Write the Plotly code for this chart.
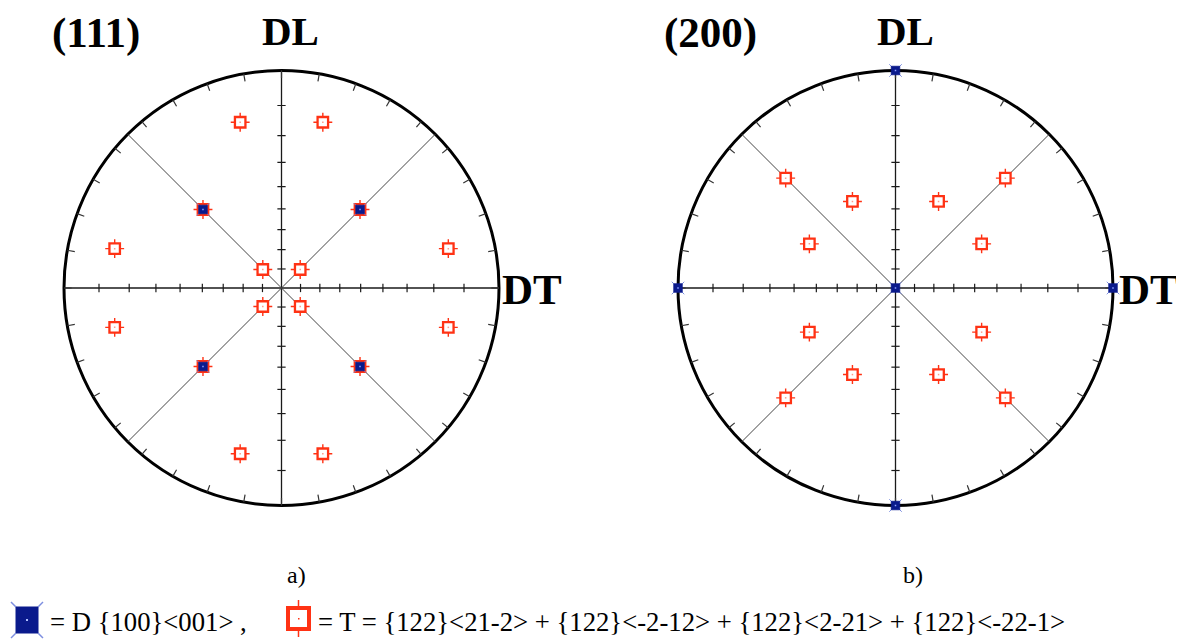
import numpy as np
import plotly.graph_objects as go

# the page keeps the browser's 8px body margin, so the figure is drawn 8px smaller
OFF = 8
W, H = 1184 - OFF, 639 - OFF

# pole positions in units of the projection radius (x -> DT, y -> DL)
d111_x = [-0.361, 0.361, -0.361, 0.361]
d111_y = [0.361, 0.361, -0.361, -0.361]
t111_x = [-0.19, 0.19, -0.767, 0.767, -0.086, 0.086, -0.361, 0.361,
          -0.086, 0.086, -0.767, 0.767, -0.361, 0.361, -0.19, 0.19]
t111_y = [0.762, 0.762, 0.181, 0.181, 0.085, 0.085, 0.361, 0.361,
          -0.085, -0.085, -0.181, -0.181, -0.361, -0.361, -0.762, -0.762]

d200_x = [0, 1, -1, 0, 0]
d200_y = [0, 0, 0, 1, -1]
t200_x = [-0.505, 0.505, -0.198, 0.198, -0.396, 0.396,
          -0.396, 0.396, -0.198, 0.198, -0.505, 0.505]
t200_y = [0.505, 0.505, 0.398, 0.398, 0.203, 0.203,
          -0.203, -0.203, -0.398, -0.398, -0.505, -0.505]

tick_polar = [10, 20, 30, 40, 50, 60, 70, 80]   # degrees, stereographic scale
tick_azimuth = list(range(0, 360, 10))
diag_azimuth = [45, 135]

RED = "#ff3214"
NAVY = "#0a1a8c"
LIGHTBLUE = "#7d8ee0"
SERIF = "Liberation Serif"

# centres of the two nets in page pixels, radius in pixels
R_PX = 217.5
centres = [(281.5, 288.0), (895.5, 288.0)]
HALF_W, HALF_H = 272, 238


def px(x):
    return (x - OFF) / W


def py(y):
    return 1 - (y - OFF) / H


def seg_trace(xs, ys, color, width, xa, ya):
    return go.Scatter(x=xs, y=ys, mode="lines", line=dict(color=color, width=width),
                      hoverinfo="skip", showlegend=False, xaxis=xa, yaxis=ya)


def add_net(fig, xa, ya):
    # main axes
    fig.add_trace(seg_trace([-1, 1, None, 0, 0], [0, 0, None, -1, 1], "#1a1a1a", 1.3, xa, ya))
    # diagonals
    dx, dy = [], []
    for a in diag_azimuth:
        c, s = np.cos(np.radians(a)), np.sin(np.radians(a))
        dx += [c, -c, None]
        dy += [s, -s, None]
    fig.add_trace(seg_trace(dx, dy, "#444", 1.0, xa, ya))
    # ticks on the axes
    r = np.tan(np.radians(tick_polar) / 2)
    tx, ty = [], []
    L = 0.019
    for v in r:
        for sgn in (-1, 1):
            tx += [sgn * v, sgn * v, None, -L, L, None]
            ty += [-L, L, None, sgn * v, sgn * v, None]
    fig.add_trace(seg_trace(tx, ty, "#1a1a1a", 1.2, xa, ya))
    # ticks on the rim
    cx, cy = [], []
    for a in tick_azimuth:
        c, s = np.cos(np.radians(a)), np.sin(np.radians(a))
        cx += [c, 0.965 * c, None]
        cy += [s, 0.965 * s, None]
    fig.add_trace(seg_trace(cx, cy, "#333", 1.2, xa, ya))


def add_poles(fig, x, y, kind, xa, ya):
    common = dict(x=x, y=y, mode="markers", hoverinfo="skip", showlegend=False, xaxis=xa, yaxis=ya)
    if kind == "T":
        fig.add_trace(go.Scatter(marker=dict(symbol="cross-thin", size=13.5,
                                             line=dict(color=RED, width=1.4)), **common))
        fig.add_trace(go.Scatter(marker=dict(symbol="square", size=10.5, color="white",
                                             line=dict(color=RED, width=2.3)), **common))
        fig.add_trace(go.Scatter(marker=dict(symbol="square", size=1.5, color="#ff9a8a",
                                             line=dict(width=0)), **common))
    else:
        fig.add_trace(go.Scatter(marker=dict(symbol="x-thin", size=12.5,
                                             line=dict(color=LIGHTBLUE, width=1)), **common))
        fig.add_trace(go.Scatter(marker=dict(symbol="square", size=8.5, color=NAVY,
                                             line=dict(color=NAVY, width=0.8)), **common))
        fig.add_trace(go.Scatter(marker=dict(symbol="square", size=1.5, color="#8fa0ff",
                                             line=dict(width=0)), **common))


fig = go.Figure()
add_net(fig, "x", "y")
add_poles(fig, t111_x, t111_y, "T", "x", "y")
add_poles(fig, d111_x, d111_y, "D", "x", "y")
add_net(fig, "x2", "y2")
add_poles(fig, t200_x, t200_y, "T", "x2", "y2")
add_poles(fig, d200_x, d200_y, "D", "x2", "y2")

ax_x = HALF_W / R_PX
ax_y = HALF_H / R_PX
layout_axes = {}
for i, (cxp, cyp) in enumerate(centres):
    suf = "" if i == 0 else "2"
    layout_axes["xaxis" + suf] = dict(range=[-ax_x, ax_x], visible=False, fixedrange=True,
                                     domain=[px(cxp - HALF_W), px(cxp + HALF_W)],
                                     anchor="y" + suf)
    layout_axes["yaxis" + suf] = dict(range=[-ax_y, ax_y], visible=False, fixedrange=True,
                                     domain=[py(cyp + HALF_H), py(cyp - HALF_H)],
                                     anchor="x" + suf)

shapes = []
for suf in ("", "2"):
    shapes.append(dict(type="circle", xref="x" + suf, yref="y" + suf, x0=-1, y0=-1, x1=1, y1=1,
                       line=dict(color="black", width=3), layer="below"))

# legend icons (paper coordinates)
shapes += [
    dict(type="line", xref="paper", yref="paper", x0=px(16), y0=py(607), x1=px(11), y1=py(602),
         line=dict(color=LIGHTBLUE, width=1.5)),
    dict(type="line", xref="paper", yref="paper", x0=px(38), y0=py(607), x1=px(43), y1=py(602),
         line=dict(color=LIGHTBLUE, width=1.5)),
    dict(type="line", xref="paper", yref="paper", x0=px(16), y0=py(633), x1=px(11), y1=py(638),
         line=dict(color=LIGHTBLUE, width=1.5)),
    dict(type="line", xref="paper", yref="paper", x0=px(38), y0=py(633), x1=px(43), y1=py(638),
         line=dict(color=LIGHTBLUE, width=1.5)),
    dict(type="rect", xref="paper", yref="paper", x0=px(16), y0=py(633), x1=px(38), y1=py(607),
         fillcolor=NAVY, line=dict(color=NAVY, width=1)),
    dict(type="rect", xref="paper", yref="paper", x0=px(26), y0=py(621), x1=px(28), y1=py(619),
         fillcolor="#b0c0ff", line=dict(width=0)),
    dict(type="line", xref="paper", yref="paper", x0=px(298.5), y0=py(600), x1=px(298.5), y1=py(607),
         line=dict(color=RED, width=1.5)),
    dict(type="line", xref="paper", yref="paper", x0=px(298.5), y0=py(630), x1=px(298.5), y1=py(637),
         line=dict(color=RED, width=1.5)),
    dict(type="rect", xref="paper", yref="paper", x0=px(288), y0=py(629), x1=px(309), y1=py(608),
         fillcolor="white", line=dict(color=RED, width=4)),
    dict(type="rect", xref="paper", yref="paper", x0=px(298), y0=py(619.5), x1=px(299.5), y1=py(618),
         fillcolor=RED, line=dict(width=0)),
]


def label(text, x, y, size, bold=False, xanchor="center"):
    return dict(text=f"<b>{text}</b>" if bold else text, x=px(x), y=py(y), xref="paper", yref="paper",
                xanchor=xanchor, yanchor="middle", showarrow=False,
                font=dict(family=SERIF, size=size, color="black"))


annotations = [
    label("(111)", 96, 33, 43, True),
    label("DL", 290, 31, 41, True),
    label("DT", 532, 289, 43, True),
    label("(200)", 710, 33, 43, True),
    label("DL", 905, 31, 41, True),
    label("DT", 1117, 289, 43, True, xanchor="left"),
    label("a)", 296, 575, 24),
    label("b)", 913, 575, 24),
    label("= D {100}&lt;001&gt; ,", 48, 622, 26.7, xanchor="left"),
    label("= T = {122}&lt;21-2&gt; + {122}&lt;-2-12&gt; + {122}&lt;2-21&gt; + {122}&lt;-22-1&gt;",
          316, 622, 26.7, xanchor="left"),
]

fig.update_layout(
    width=W, height=H,
    margin=dict(l=0, r=0, t=0, b=0),
    paper_bgcolor="white", plot_bgcolor="white",
    shapes=shapes, annotations=annotations,
    **layout_axes,
)

fig.write_html("out.html")
